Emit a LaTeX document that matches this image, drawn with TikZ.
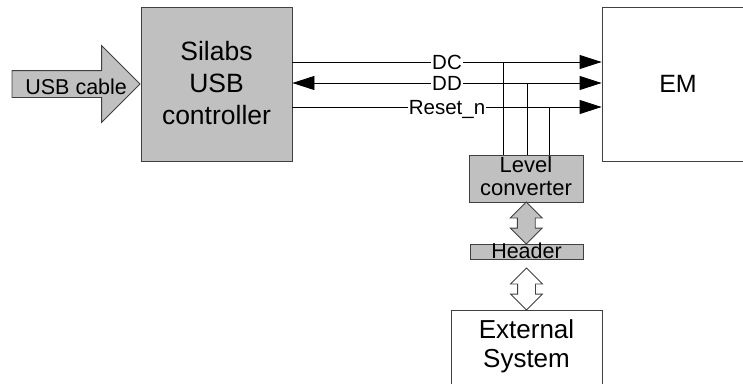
\documentclass[tikz,border=0pt]{standalone}
\usepackage{fontspec}
\setmainfont{Liberation Sans}
\usetikzlibrary{positioning,calc,shapes.arrows,arrows.meta}
\definecolor{boxgray}{RGB}{192,192,192}
\definecolor{edgegray}{RGB}{64,64,64}
\tikzset{
	blockbox/.style={draw=edgegray, line width=0.8pt, inner sep=0pt, align=center},
	graybox/.style={blockbox, fill=boxgray},
	sig/.style={line width=0.8pt},
	sigto/.style={-{Triangle[length=22pt,width=14pt]}},
	sigboth/.style={{Triangle[length=22pt,width=14pt]}-{Triangle[length=22pt,width=14pt]}},
	lbl/.style={fill=white, inner xsep=1pt, inner ysep=0pt, text height=15pt, text depth=0pt, font=\fontsize{20.5}{20.5}\selectfont},
	bus/.style={double arrow, draw=edgegray, line width=0.8pt, rotate=90, minimum height=42pt, inner xsep=0pt, inner ysep=8.5pt, double arrow head extend=7pt}
}

\begin{document}
\begin{tikzpicture}[x=1pt,y=-1pt]
	\useasboundingbox (0,0) rectangle (743,383);
	\clip (0,0) rectangle (743,383);

	\node[graybox, minimum width=151pt, minimum height=154pt, text height=82pt, text depth=2pt, font=\fontsize{26.5}{32}\selectfont] (silabs) at (216.5,84) {Silabs\\USB\\controller};
	\node[blockbox, minimum width=152pt, minimum height=154pt, font=\fontsize{25}{30}\selectfont] (em) at (678,84) {EM};
	\node[graybox, minimum width=114pt, minimum height=47pt, text height=34pt, text depth=1pt, font=\fontsize{22}{23}\selectfont] (level) at (526,178.5) {Level\\converter};
	\node[graybox, minimum width=113pt, text height=14pt, text depth=1pt, font=\fontsize{21.5}{21.5}\selectfont] (header) at (526.5,251.5) {Header};
	\node[blockbox, anchor=north, minimum width=151pt, text height=57pt, text depth=41pt, font=\fontsize{26}{29}\selectfont] (ext) at (526.5,310) {External\\System};

	\node[single arrow, draw=edgegray, fill=boxgray, line width=0.8pt, anchor=tip, minimum height=128pt, inner xsep=0pt, inner ysep=13pt, single arrow head extend=25pt] (usb) at (silabs.west) {};
	\node[anchor=base, inner sep=0pt, font=\fontsize{21.5}{21.5}\selectfont] (usbtext) at ($(usb.tail)+(64.5,10)$) {USB cable};

	\coordinate (dc) at (0,62);
	\coordinate (dd) at (0,83);
	\coordinate (rst) at (0,107);
	\draw[sig, sigto] (silabs.east |- dc) -- node[lbl] (dclbl) {DC} (em.west |- dc);
	\draw[sig, sigboth] (silabs.east |- dd) -- node[lbl] (ddlbl) {DD} (em.west |- dd);
	\draw[sig, sigto] (silabs.east |- rst) -- node[lbl] (rstlbl) {Reset\_n} (em.west |- rst);

	\coordinate (tapdc) at (503,62);
	\coordinate (tapdd) at (527,83);
	\coordinate (taprst) at (549,107);
	\draw[sig] (tapdc) -- (tapdc |- level.north);
	\draw[sig] (tapdd) -- (tapdd |- level.north);
	\draw[sig] (taprst) -- (taprst |- level.north);

	\node[bus, fill=boxgray] (lvlhdr) at ($(level.south)!0.5!(header.north)$) {};
	\node[bus, fill=white] (hdrext) at ($(ext.north)+(0,-21)$) {};
\end{tikzpicture}
\end{document}
